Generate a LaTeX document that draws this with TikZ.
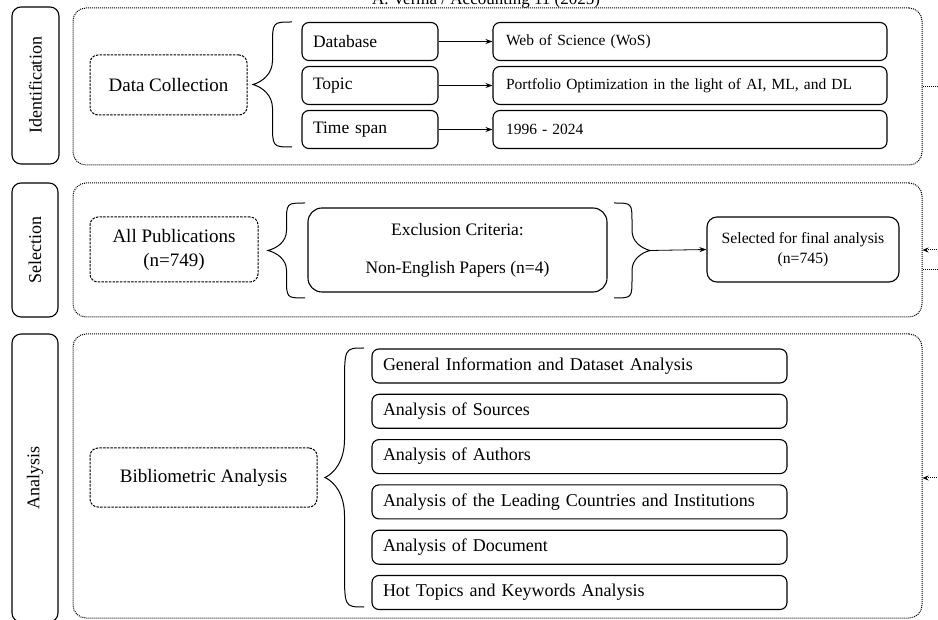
\documentclass[tikz,border=0pt]{standalone}
\usepackage{fontspec}
\setmainfont{Liberation Serif}
\usetikzlibrary{positioning,arrows.meta}

% curly brace: tip x, end x, top y, bottom y, length of the bends
\newcommand{\curlbrace}[5]{%
  \pgfmathsetmacro{\bx}{(#1+#2)/2}
  \pgfmathsetmacro{\bm}{(#1+\bx)/2}
  \pgfmathsetmacro{\by}{(#3+#4)/2}
  \draw[brace] (#2,#3) .. controls (\bx,#3) .. (\bx,#3+#5) -- (\bx,\by-#5)
    .. controls (\bx,\by-0.45*#5) and (\bm,\by-0.12*#5) .. (#1,\by)
    .. controls (\bm,\by+0.12*#5) and (\bx,\by+0.45*#5) .. (\bx,\by+#5)
    -- (\bx,#4-#5) .. controls (\bx,#4) .. (#2,#4);
}

\begin{document}
\begin{tikzpicture}
  [
    x=1pt, y=-1pt,
    >={Stealth[length=7pt,width=5pt]},
    stage/.style = {draw, rounded corners=9pt, line width=1.1pt, rotate=90, inner sep=0pt, font=\fontsize{18}{22}\selectfont},
    frame/.style = {draw, densely dotted, line width=1pt, rounded corners=13pt, inner sep=0pt},
    group/.style = {draw, dash pattern=on 2.5pt off 1.2pt, line width=1pt, rounded corners=8pt, inner sep=0pt, align=center, font=\fontsize{19}{24}\selectfont},
    item/.style  = {draw, line width=1.1pt, rounded corners=7pt, inner xsep=11pt, inner ysep=0pt, align=left},
    link/.style  = {->, line width=0.8pt},
    brace/.style = {line width=1pt},
    back/.style  = {densely dotted, line width=1pt, >={Stealth[length=6pt,width=5pt]}},
  ]

\useasboundingbox (0,0) rectangle (938,620);

%Page header, cut by the top edge
\node[anchor=base, font=\fontsize{17}{20}\selectfont] (head) at (486,5) {A. Verma / Accounting 11 (2025)};

%Identification
\node[stage, minimum width=157pt, minimum height=47pt] (idstage) at (35.5,85.5) {Identification};
\node[frame, minimum width=849pt, minimum height=157pt] (idframe) at (497.5,86.5) {};
\node[group, minimum width=157pt, minimum height=60pt] (collect) at (168.5,85) {Data Collection};
\curlbrace{253}{292}{22}{147}{24}

\foreach [count=\i] \a/\b in {Database/{Web of Science (WoS)},Topic/{Portfolio Optimization in the light of AI, ML, and DL},Time span/{1996 - 2024}}
{
\pgfmathsetmacro{\yy}{41.5+44*(\i-1)}
\node[item, font=\fontsize{17.5}{21}\selectfont, text width=114pt, minimum height=38pt] (src\i) at (370,\yy) {\a};
\node[item, inner xsep=13pt, font=\fontsize{15.5}{19}\selectfont, text width=368pt, minimum height=38pt] (val\i) at (690,\yy) {\b};
\draw[link] (src\i) -- (val\i);
}

%Selection
\node[stage, minimum width=134pt, minimum height=46pt] (selstage) at (35,250) {Selection};
\node[frame, minimum width=849pt, minimum height=134pt] (selframe) at (497.5,250) {};
\node[group, minimum width=168pt, minimum height=65pt] (allpub) at (174,249.5) {All Publications\\(n=749)};
\curlbrace{268}{305}{203}{298}{20}
\node[item, rounded corners=14pt, align=center, minimum width=299pt, minimum height=84pt, font=\fontsize{17.5}{38}\selectfont] (crit) at (457.5,250) {Exclusion Criteria:\\Non-English Papers (n=4)};
\curlbrace{650}{614}{203}{298}{20}
\coordinate (crittip) at (650,250.5);
\node[item, rounded corners=10pt, align=center, minimum width=192pt, minimum height=65pt, font=\fontsize{15.7}{20}\selectfont] (final) at (803,249.5) {Selected for final analysis\\(n=745)};
\draw[link] (crittip) -- (final.west);

%Analysis
\node[stage, minimum width=288pt, minimum height=46pt] (anstage) at (35,478) {Analysis};
\node[frame, minimum width=849pt, minimum height=284pt] (anframe) at (497.5,476) {};
\node[group, minimum width=227pt, minimum height=59pt] (biblio) at (203.5,477.5) {Bibliometric Analysis};
\curlbrace{325}{364}{348}{607}{38}

\foreach [count=\i] \t in {General Information and Dataset Analysis,Analysis of Sources,Analysis of Authors,Analysis of the Leading Countries and Institutions,Analysis of Document,Hot Topics and Keywords Analysis}
{
\pgfmathsetmacro{\yy}{366+45.3*(\i-1)}
\node[item, font=\fontsize{18}{22}\selectfont, text width=393pt, minimum height=34pt] (part\i) at (579.5,\yy) {\t};
}

%Dotted lines running off the right edge
\coordinate (idout) at (940,86.5);
\coordinate (selin) at (940,250);
\coordinate (selout) at (940,270);
\coordinate (anin) at (940,478);
\draw[back] (idframe.east) -- (idout);
\draw[back,<-] (selframe.east) -- (selin);
\draw[back] ([yshift=-20pt]selframe.east) -- (selout);
\draw[back,<-] ([yshift=-2pt]anframe.east) -- (anin);

\end{tikzpicture}
\end{document}
